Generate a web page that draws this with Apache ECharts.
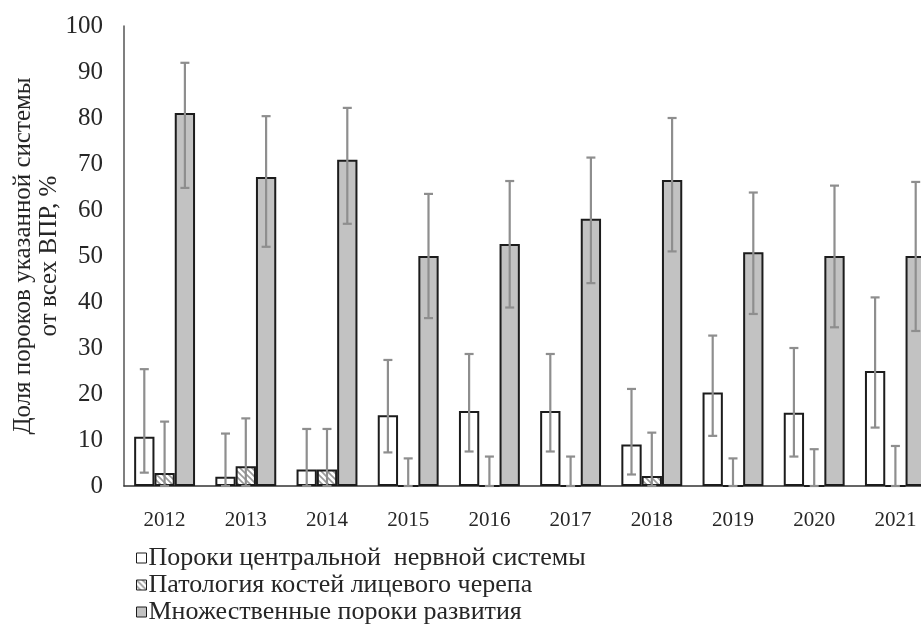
<!DOCTYPE html>
<html>
<head>
<meta charset="utf-8">
<script src="https://cdn.jsdelivr.net/npm/echarts@6/dist/echarts.min.js"></script>
<style>
  html, body { margin: 0; padding: 0; background: #fff; }
  #chart { width: 921px; height: 635px; }
</style>
</head>
<body>
<div id="chart"></div>
<script>
// Years on the category axis
const years = ['2012', '2013', '2014', '2015', '2016', '2017', '2018', '2019', '2020', '2021'];

// Series names
const nameCns = 'Пороки центральной  нервной системы';
const nameFace = 'Патология костей лицевого черепа';
const nameMulti = 'Множественные пороки развития';

// Share of each group of defects, %
const cnsValues   = [10.7, 2.0, 3.6, 15.4, 16.3, 16.3, 9.0, 20.3, 15.9, 25.0];
const faceValues  = [2.8, 4.3, 3.6, 0, 0, 0, 2.2, 0, 0, 0];
const multiValues = [81.1, 67.2, 70.9, 50.0, 52.6, 58.1, 66.5, 50.8, 50.0, 50.0];

// Confidence interval bounds, %
const cnsHigh   = [25.4, 11.4, 12.4, 27.4, 28.7, 28.7, 21.1, 32.7, 30.0, 41.0];
const cnsLow    = [2.9, 0, 0, 7.3, 7.5, 7.5, 2.5, 10.9, 6.4, 12.7];
const faceHigh  = [14.0, 14.7, 12.4, 6.0, 6.4, 6.4, 11.6, 6.0, 8.0, 8.7];
const faceLow   = [0, 0, 0, 0, 0, 0, 0, 0, 0, 0];
const multiHigh = [92.0, 80.4, 82.2, 63.5, 66.3, 71.4, 80.0, 63.8, 65.3, 66.1];
const multiLow  = [64.8, 52.0, 57.0, 36.5, 38.8, 44.1, 51.0, 37.4, 34.5, 33.7];

// Y axis ticks
const yMin = 0, yMax = 100, yStep = 10;

// Diagonal hatch fill
function makeHatch() {
  const c = document.createElement('canvas');
  c.width = 6; c.height = 6;
  const g = c.getContext('2d');
  g.fillStyle = '#ffffff';
  g.fillRect(0, 0, 6, 6);
  g.strokeStyle = '#9a9a9a';
  g.lineWidth = 1.6;
  g.beginPath();
  g.moveTo(-1, -1); g.lineTo(7, 7);
  g.moveTo(-4, 2); g.lineTo(4, 10);
  g.moveTo(2, -4); g.lineTo(10, 4);
  g.stroke();
  return c;
}

const BAR_FRACTION = 0.25;
const borderColor = '#1c1c1c';
const errColor = '#8e8e8e';

function errorSeries(high, low, slot) {
  return {
    type: 'custom',
    z: 10,
    silent: true,
    data: high.map((h, i) => [i, h, low[i]]),
    renderItem: function (params, api) {
      const idx = api.value(0);
      const pHi = api.coord([idx, api.value(1)]);
      const pLo = api.coord([idx, api.value(2)]);
      const band = api.size([1, 0])[0];
      const x = pHi[0] + slot * band * BAR_FRACTION;
      const cap = 4.5;
      const style = { stroke: errColor, lineWidth: 2.2 };
      return {
        type: 'group',
        children: [
          { type: 'line', shape: { x1: x, y1: pHi[1], x2: x, y2: pLo[1] }, style: style },
          { type: 'line', shape: { x1: x - cap, y1: pHi[1], x2: x + cap, y2: pHi[1] }, style: style },
          { type: 'line', shape: { x1: x - cap, y1: pLo[1], x2: x + cap, y2: pLo[1] }, style: style }
        ]
      };
    }
  };
}

const font = '"Liberation Serif", "Times New Roman", serif';

// One legend row per series, stacked under the plot
function legendRow(name, top) {
  return {
    orient: 'horizontal',
    left: 131,
    top: top,
    icon: 'rect',
    itemWidth: 10,
    itemHeight: 10,
    data: [name],
    itemStyle: { borderWidth: 1, borderColor: '#1c1c1c' },
    textStyle: { fontFamily: font, fontSize: 26, lineHeight: 20, color: '#262626', padding: [0, 0, 0, -3] }
  };
}

const chart = echarts.init(document.getElementById('chart'), null, { renderer: 'canvas' });

chart.setOption({
  animation: false,
  backgroundColor: '#ffffff',
  textStyle: { fontFamily: font },
  grid: { left: 124, top: 26, width: 812, height: 460, outerBoundsMode: 'none', containLabel: false },
  legend: [
    legendRow(nameCns, 540),
    legendRow(nameFace, 567),
    legendRow(nameMulti, 594)
  ],
  xAxis: {
    type: 'category',
    data: years,
    axisTick: { show: false },
    axisLine: { lineStyle: { color: '#333333', width: 1.5 } },
    axisLabel: { fontFamily: font, fontSize: 21, color: '#262626', margin: 24 }
  },
  yAxis: {
    type: 'value',
    min: yMin,
    max: yMax,
    interval: yStep,
    splitLine: { show: false },
    axisTick: { show: false },
    axisLine: { show: true, lineStyle: { color: '#555555', width: 1.5 } },
    axisLabel: { fontFamily: font, fontSize: 25, color: '#262626', margin: 21 },
    name: 'Доля пороков указанной системы\nот всех ВПР, %',
    nameLocation: 'middle',
    nameGap: 62,
    nameMoveOverlap: false,
    nameTextStyle: { fontFamily: font, fontSize: 25, color: '#262626', lineHeight: 26 }
  },
  series: [
    {
      name: nameCns, type: 'bar', data: cnsValues,
      barWidth: '25%', barGap: '0%',
      itemStyle: { color: '#ffffff', borderColor: borderColor, borderWidth: 2 }
    },
    {
      name: nameFace, type: 'bar', data: faceValues,
      barWidth: '25%', barGap: '0%',
      itemStyle: { color: { image: makeHatch(), repeat: 'repeat' }, borderColor: borderColor, borderWidth: 2 }
    },
    {
      name: nameMulti, type: 'bar', data: multiValues,
      barWidth: '25%', barGap: '0%',
      itemStyle: { color: '#c2c2c2', borderColor: borderColor, borderWidth: 2 }
    },
    errorSeries(cnsHigh, cnsLow, -1),
    errorSeries(faceHigh, faceLow, 0),
    errorSeries(multiHigh, multiLow, 1)
  ]
});
</script>
</body>
</html>
